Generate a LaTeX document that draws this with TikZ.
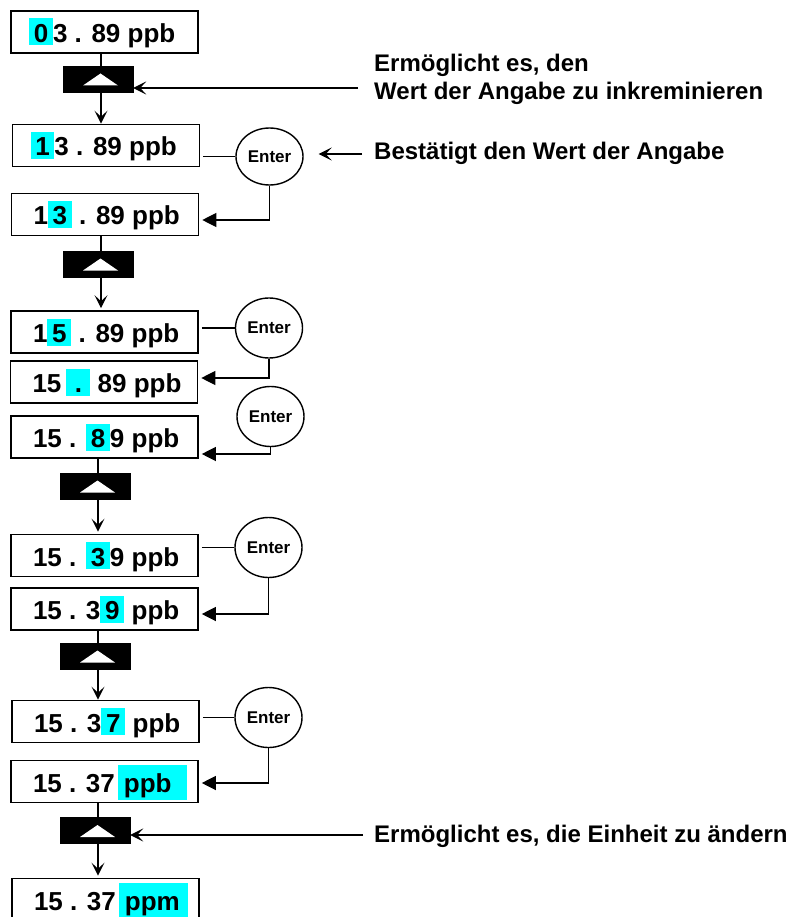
\documentclass[tikz,border=0pt]{standalone}
\usepackage{fontspec}
\setmainfont{Liberation Sans}
\usetikzlibrary{arrows.meta,shapes.geometric}
\definecolor{hlc}{RGB}{0,255,255}
\newcommand\hlt[1]{{\setlength{\fboxsep}{0pt}\colorbox{hlc}{\rule[-3pt]{0pt}{27pt}\makebox[24pt]{#1}}}}
\newcommand\hlu[1]{{\setlength{\fboxsep}{0pt}\colorbox{hlc}{\rule[-8pt]{0pt}{35pt}\makebox[69pt][l]{\hspace{6pt}#1}}}}
\newcommand\dtx[2][22pt]{\makebox[187pt][l]{\hspace{#1}#2}}
\begin{document}
\begin{tikzpicture}[x=1pt,y=-1pt,
  disp/.style={draw, line width=1.6pt, rectangle, minimum width=187pt, minimum height=42pt,
    inner sep=0pt, text height=21pt, text depth=0pt, font=\fontsize{26}{30}\selectfont\bfseries},
  key/.style={draw=black, fill=black, minimum width=70pt, minimum height=26pt, inner sep=0pt,
    path picture={\fill[white] ([xshift=2.5pt,yshift=5.5pt]path picture bounding box.center)
      -- ([xshift=-15pt,yshift=-6.5pt]path picture bounding box.center)
      -- ([xshift=20pt,yshift=-6.5pt]path picture bounding box.center) -- cycle;}},
  enter/.style={draw, ellipse, line width=1.4pt, minimum width=67pt, minimum height=60pt, inner sep=0pt,
    font=\fontsize{17}{20}\selectfont\bfseries},
  note/.style={align=left, inner sep=0pt, font=\fontsize{24}{28}\selectfont\bfseries},
  ln/.style={line width=1.2pt},
  arr/.style={ln, -{Stealth[length=13pt,width=13pt,inset=6pt]}},
  tri/.style={ln, -{Triangle[length=14pt,width=14pt]}}
]
\useasboundingbox (0,0) rectangle (795,917);
\coordinate (c1) at (101,0);
\coordinate (c2) at (98,0);

\node[disp] (B1) at (104.5,32) {\dtx[18pt]{\hlt{0}3 . 89 ppb}};
\node[key] (K1) at (98,79) {};
\node[disp] (B2) at (106,145.5) {\dtx[18pt]{\hlt{1}3 . 89 ppb}};
\node[enter, minimum height=57pt] (E1) at (269.5,156.5) {Enter};
\node[disp] (B3) at (105,214.5) {\dtx{1\hlt{3} . 89 ppb}};
\node[key] (K2) at (98,264) {};
\node[disp] (B4) at (104.5,332) {\dtx{1\hlt{5} . 89 ppb}};
\node[enter] (E2) at (269,328) {Enter};
\node[disp] (B5) at (104,382) {\dtx{15\hspace{5pt}\hlt{.} 89 ppb}};
\node[enter] (E3) at (270.5,416.5) {Enter};
\node[disp] (B6) at (104.5,437) {\dtx{15 . \hlt{8}9 ppb}};
\node[key] (K3) at (95,486) {};
\node[disp] (B7) at (104.5,555.5) {\dtx{15 . \hlt{3}9 ppb}};
\node[enter] (E4) at (268.5,547.5) {Enter};
\node[disp] (B8) at (104.5,609) {\dtx{15 . 3\hlt{9} ppb}};
\node[key] (K4) at (95,656) {};
\node[disp] (B9) at (105.5,721.5) {\dtx{15 . 3\hlt{7} ppb}};
\node[enter] (E5) at (268.5,717.5) {Enter};
\node[disp] (B10) at (104.5,781.5) {\dtx{15 . 37\hspace{3pt}\hlu{ppb}}};
\node[key] (K5) at (95,830.5) {};
\node[disp] (B11) at (105.5,899.5) {\dtx{15 . 37\hspace{3pt}\hlu{ppm}}};

\node[note, anchor=base west] (T1) at (374,100) {Ermöglicht es, den\\Wert der Angabe zu inkreminieren};
\node[note, anchor=base west] (T2) at (374,160) {Bestätigt den Wert der Angabe};
\node[note, anchor=base west] (T3) at (374,842) {Ermöglicht es, die Einheit zu ändern};
\coordinate (a1) at (358,88);
\coordinate (a2) at (362,154);
\coordinate (a3) at (363,835);

\draw[ln] (c1 |- B1.south) -- (c1 |- K1.north);
\draw[arr] (c1 |- K1.south) -- (c1 |- B2.north);
\draw[ln] (c1 |- B3.south) -- (c1 |- K2.north);
\draw[arr, shorten >=2pt] (c1 |- K2.south) -- (c1 |- B4.north);
\draw[ln] (c2 |- B6.south) -- (c2 |- K3.north);
\draw[arr, shorten >=2pt] (c2 |- K3.south) -- (c2 |- B7.north);
\draw[ln] (c2 |- B8.south) -- (c2 |- K4.north);
\draw[arr] (c2 |- K4.south) -- (c2 |- B9.north);
\draw[ln] (c2 |- B10.south) -- (c2 |- K5.north);
\draw[arr, shorten >=2pt] (c2 |- K5.south) -- (c2 |- B11.north);

\draw[ln, shorten <=3pt] (E1.west -| B2.east) -- (E1.west);
\draw[tri, shorten >=3pt] (E1.south) |- ([yshift=-5.5pt]B3.east);
\draw[ln, shorten <=3pt] (E2.west -| B4.east) -- (E2.west);
\draw[tri, shorten >=3pt] (E2.south) |- ([yshift=4pt]B5.east);
\draw[tri, shorten >=3pt] (E3.south) |- ([yshift=-17pt]B6.east);
\draw[ln, shorten <=3pt] (E4.west -| B7.east) -- (E4.west);
\draw[tri, shorten >=3pt] (E4.south) |- ([yshift=-5pt]B8.east);
\draw[ln, shorten <=3pt] (E5.west -| B9.east) -- (E5.west);
\draw[tri, shorten >=3pt] (E5.south) |- ([yshift=-1.5pt]B10.east);

\draw[arr] (a1) -- (a1 -| K1.east);
\draw[arr, shorten >=15pt] (a2) -- (a2 -| E1.east);
\draw[arr] (a3) -- (a3 -| K5.east);
\end{tikzpicture}
\end{document}
